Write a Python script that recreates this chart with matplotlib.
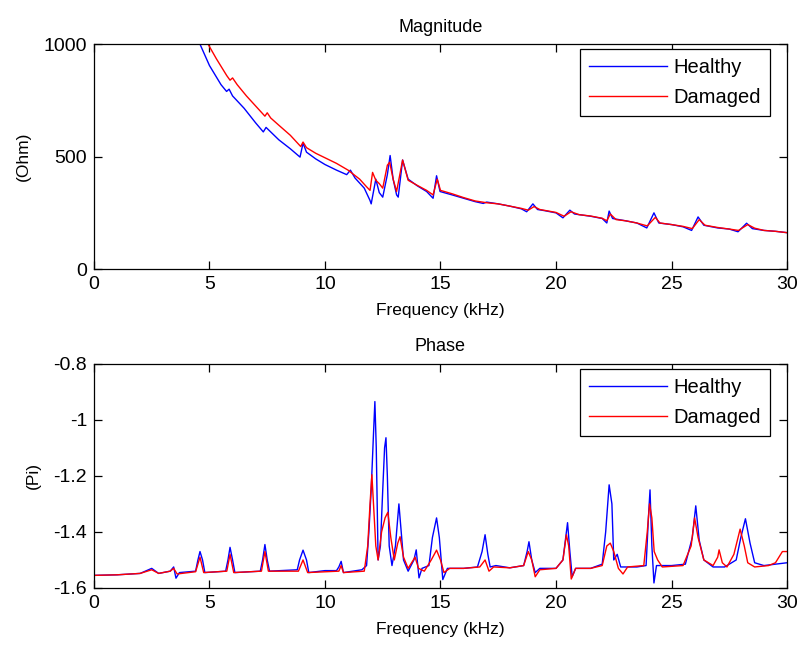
import matplotlib.pyplot as plt
from matplotlib.ticker import FormatStrFormatter

# magnitude readings, healthy structure (kHz, Ohm)
mag_h_f = [4.0, 4.59, 5.0, 5.5, 5.74, 5.85, 6.0, 6.5, 7.0, 7.33, 7.45, 7.6, 8.0, 8.5,
           8.92, 9.05, 9.2, 9.6, 10.0, 10.5, 10.94, 11.1, 11.3, 11.7, 11.95, 12.0,
           12.2, 12.35, 12.5, 12.7, 12.82, 12.95, 13.1, 13.17, 13.36, 13.6, 14.0,
           14.4, 14.68, 14.83, 14.98, 15.5, 16.0, 16.5, 16.85, 17.0, 17.5, 18.0,
           18.5, 18.73, 19.0, 19.2, 19.5, 20.0, 20.3, 20.6, 20.8, 21.5, 22.0, 22.2,
           22.3, 22.45, 23.0, 23.5, 23.93, 24.24, 24.45, 25.0, 25.5, 25.87, 26.15,
           26.4, 27.0, 27.5, 27.88, 28.25, 28.5, 29.0, 29.5, 30.0]
mag_h = [1130, 1000, 905, 820, 790, 800, 770, 715, 650, 610, 630, 615, 575, 535,
         498, 560, 520, 490, 465, 440, 420, 440, 405, 360, 305, 290,
         400, 340, 320, 420, 505, 400, 330, 320, 485, 400, 370,
         345, 315, 415, 345, 330, 315, 300, 292, 298, 290, 280,
         268, 255, 290, 265, 260, 250, 228, 262, 245, 235, 225, 205,
         258, 225, 215, 205, 183, 250, 205, 198, 188, 172, 232,
         195, 183, 178, 166, 204, 180, 172, 168, 162]

# magnitude readings, damaged structure
mag_d_f = [4.3, 4.94, 5.3, 5.75, 5.89, 6.0, 6.2, 6.6, 7.0, 7.4, 7.5, 7.65, 8.0, 8.5,
           8.95, 9.05, 9.2, 9.6, 10.0, 10.5, 11.0, 11.5, 11.8, 11.95, 12.06, 12.2,
           12.35, 12.5, 12.7, 12.8, 12.95, 13.1, 13.36, 13.6, 14.0, 14.4, 14.68,
           14.86, 15.0, 15.5, 16.0, 16.5, 17.0, 17.5, 18.0, 18.5, 18.8, 19.05, 19.3,
           20.0, 20.35, 20.65, 21.0, 21.5, 22.0, 22.2, 22.35, 22.6, 23.0, 23.5,
           23.95, 24.3, 24.5, 25.0, 25.5, 25.9, 26.2, 26.45, 27.0, 27.5, 27.9, 28.3,
           28.6, 29.0, 29.5, 30.0]
mag_d = [1130, 1000, 935, 860, 840, 850, 820, 770, 725, 680, 695, 672, 640, 595,
         545, 565, 540, 515, 495, 470, 440, 400, 366, 350, 430, 395,
         380, 360, 462, 475, 400, 345, 485, 395, 372, 350, 330,
         400, 350, 335, 318, 303, 295, 290, 280, 270, 262, 278, 265,
         252, 235, 255, 242, 236, 226, 215, 245, 220, 215, 205,
         192, 230, 205, 198, 190, 180, 220, 195, 185, 178, 172, 198,
         182, 172, 168, 162]

# phase readings, healthy structure (kHz, Pi)
ph_h_f = [0.0, 1.0, 2.0, 2.5, 2.8, 3.3, 3.45, 3.55, 3.7, 4.4, 4.5, 4.59, 4.7, 4.8,
          5.7, 5.8, 5.89, 6.0, 6.1, 7.2, 7.3, 7.4, 7.5, 7.6, 8.8, 8.9, 9.05, 9.2,
          9.3, 10.0, 10.5, 10.6, 10.7, 10.8, 11.6, 11.8, 11.9, 12.0, 12.1, 12.16,
          12.22, 12.3, 12.4, 12.5, 12.58, 12.64, 12.7, 12.78, 12.9, 13.05, 13.2,
          13.3, 13.4, 13.6, 13.85, 13.95, 14.07, 14.2, 14.5, 14.65, 14.83, 14.95,
          15.1, 15.3, 16.0, 16.6, 16.8, 16.93, 17.05, 17.15, 17.4, 18.0, 18.6,
          18.75, 18.83, 18.95, 19.1, 19.3, 20.0, 20.3, 20.5, 20.6, 20.7, 20.85,
          21.5, 22.0, 22.15, 22.3, 22.42, 22.5, 22.65, 22.8, 23.5, 23.9, 24.0,
          24.07, 24.15, 24.24, 24.35, 25.0, 25.6, 25.9, 26.05, 26.2, 26.4, 26.8,
          27.3, 27.8, 28.0, 28.2, 28.4, 28.6, 29.0, 29.5, 30.0]
ph_h = [-1.555, -1.553, -1.548, -1.53, -1.548, -1.54, -1.525, -1.565, -1.545, -1.54,
        -1.5, -1.47, -1.5, -1.545,
        -1.54, -1.5, -1.455, -1.5, -1.545, -1.54, -1.5, -1.445, -1.5, -1.54,
        -1.535, -1.5, -1.465, -1.5,
        -1.545, -1.538, -1.538, -1.525, -1.505, -1.545, -1.535, -1.52, -1.4,
        -1.25, -1.05, -0.935,
        -1.1, -1.5, -1.45, -1.25, -1.1, -1.064, -1.2, -1.45, -1.52, -1.45, -1.3,
        -1.4, -1.5, -1.54, -1.5, -1.464, -1.564, -1.53, -1.52, -1.42, -1.35, -1.42,
        -1.57, -1.53, -1.53, -1.525, -1.47, -1.41, -1.48, -1.525, -1.52, -1.528,
        -1.52,
        -1.47, -1.435, -1.5, -1.545, -1.53, -1.53, -1.5, -1.367, -1.47, -1.56,
        -1.53,
        -1.53, -1.515, -1.4, -1.232, -1.3, -1.5, -1.48, -1.525, -1.525, -1.52,
        -1.35,
        -1.25, -1.45, -1.582, -1.52, -1.52, -1.515, -1.42, -1.307, -1.43, -1.5,
        -1.525,
        -1.525, -1.5, -1.42, -1.353, -1.44, -1.51, -1.52, -1.515, -1.51]

# phase readings, damaged structure
ph_d_f = [0.0, 1.0, 2.0, 2.5, 2.8, 3.3, 3.45, 3.6, 4.4, 4.59, 4.75, 5.75, 5.89,
          6.05, 7.25, 7.4, 7.55, 8.85, 9.05, 9.25, 10.6, 10.7, 10.8, 11.7, 11.85,
          11.95, 12.03, 12.1, 12.2, 12.3, 12.45, 12.6, 12.72, 12.85, 13.0, 13.15,
          13.25, 13.4, 13.6, 13.9, 14.05, 14.3, 14.6, 14.83, 15.0, 15.15, 15.4,
          16.0, 16.7, 16.93, 17.1, 17.3, 18.0, 18.6, 18.8, 18.95, 19.1, 19.3,
          20.0, 20.3, 20.45, 20.55, 20.66, 20.85, 21.5, 22.0, 22.2, 22.35, 22.5,
          22.7, 22.9, 23.1, 23.8, 23.95, 24.05, 24.15, 24.25, 24.4, 24.6, 25.5,
          25.85, 26.0, 26.15, 26.4, 26.8, 27.0, 27.06, 27.2, 27.4, 27.7, 27.97,
          28.15, 28.3, 28.6, 29.2, 29.5, 29.8, 30.0]
ph_d = [-1.555, -1.553, -1.548, -1.535, -1.548, -1.54, -1.53, -1.55, -1.542, -1.49,
        -1.545, -1.54, -1.48,
        -1.545, -1.54, -1.47, -1.54, -1.54, -1.5, -1.545, -1.54, -1.52, -1.545,
        -1.54, -1.45,
        -1.3, -1.196, -1.3, -1.45, -1.5, -1.4, -1.35, -1.33, -1.42, -1.5, -1.44,
        -1.417, -1.49, -1.53, -1.49, -1.53, -1.54, -1.5, -1.465, -1.5, -1.545,
        -1.53,
        -1.53, -1.525, -1.5, -1.54, -1.525, -1.528, -1.52, -1.47, -1.5, -1.56,
        -1.535,
        -1.53, -1.5, -1.41, -1.45, -1.568, -1.53, -1.53, -1.52, -1.45, -1.44, -1.47,
        -1.53, -1.55, -1.525, -1.52, -1.4, -1.30, -1.35, -1.47, -1.5, -1.525,
        -1.52,
        -1.45, -1.35, -1.42, -1.5, -1.52, -1.49, -1.464, -1.51, -1.525, -1.48,
        -1.39,
        -1.45, -1.51, -1.525, -1.52, -1.51, -1.47, -1.47]

plt.rcParams['font.family'] = ['Liberation Sans', 'DejaVu Sans']
plt.rcParams['font.size'] = 12.5
plt.rcParams['axes.titlesize'] = 13
plt.rcParams['axes.labelsize'] = 12.5
plt.rcParams['xtick.labelsize'] = 14
plt.rcParams['ytick.labelsize'] = 14

fig = plt.figure(figsize=(7.99, 6.5), dpi=100)
ax1 = fig.add_axes([0.1176, 0.586, 0.8674, 0.346])
ax2 = fig.add_axes([0.1176, 0.0954, 0.8674, 0.345])

ax1.plot(mag_h_f, mag_h, color='#0000ff', lw=1.0, label='Healthy')
ax1.plot(mag_d_f, mag_d, color='#ff0000', lw=1.0, label='Damaged')
ax1.set_xlim(0, 30)
ax1.set_ylim(0, 1000)
ax1.set_yticks([0, 500, 1000])
ax1.set_title('Magnitude', pad=9)
ax1.set_ylabel('(Ohm)', labelpad=9)
ax1.set_xlabel('Frequency (kHz)', labelpad=7)

ax2.plot(ph_h_f, ph_h, color='#0000ff', lw=1.0, label='Healthy')
ax2.plot(ph_d_f, ph_d, color='#ff0000', lw=1.0, label='Damaged')
ax2.set_xlim(0, 30)
ax2.set_ylim(-1.6, -0.8)
ax2.set_yticks([-1.6, -1.4, -1.2, -1.0, -0.8])
ax2.yaxis.set_major_formatter(FormatStrFormatter('%g'))
ax2.set_title('Phase', pad=9)
ax2.set_ylabel('(Pi)', labelpad=9)
ax2.set_xlabel('Frequency (kHz)', labelpad=7)

for ax in (ax1, ax2):
    ax.set_xticks(range(0, 31, 5))
    ax.tick_params(direction='in', top=True, right=True, length=6, width=0.9,
                   pad=5)
    for s in ax.spines.values():
        s.set_linewidth(0.9)
    leg = ax.legend(loc='upper right', bbox_to_anchor=(1 - 17 / 693, 1 - 5 / 225),
                    borderaxespad=0, fancybox=False, edgecolor='black',
                    framealpha=1, fontsize=14.5, handlelength=3.9,
                    handletextpad=0.3, labelspacing=0.55, borderpad=0.45)
    leg.get_frame().set_linewidth(0.9)

fig.savefig('out.png', dpi=100)
